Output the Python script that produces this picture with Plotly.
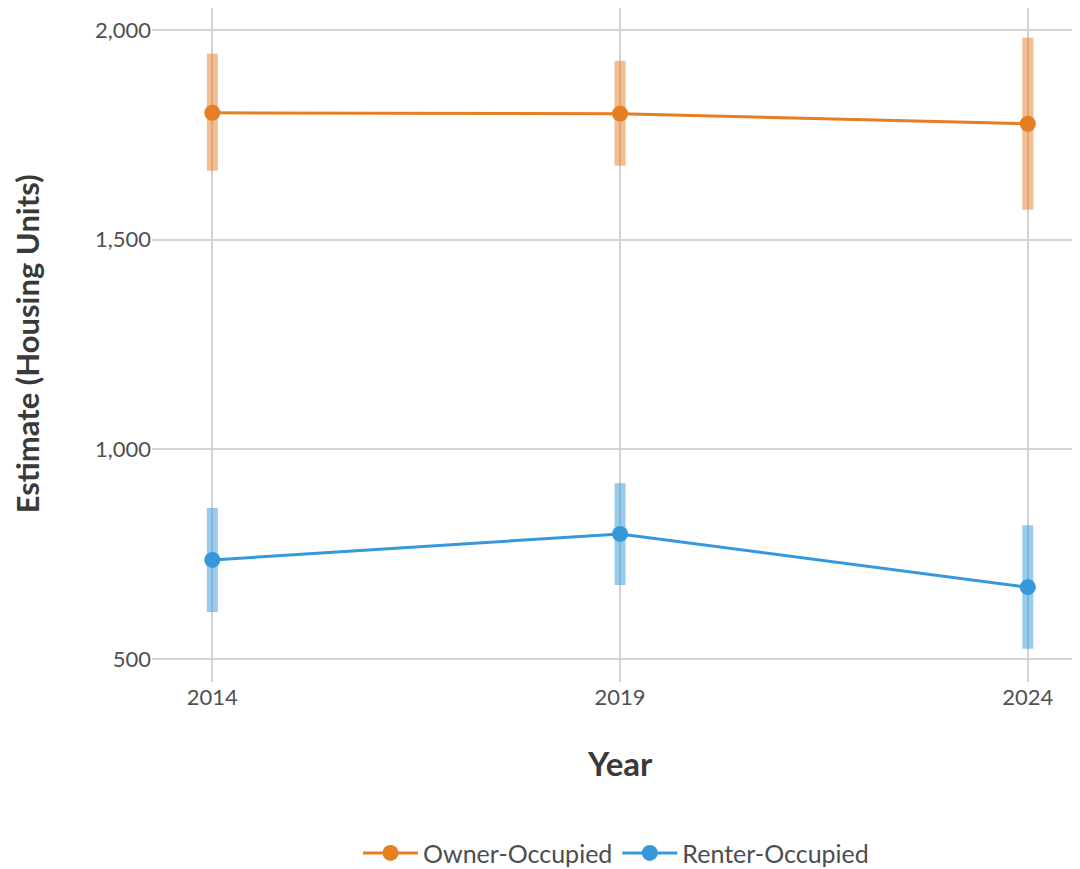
import plotly.graph_objects as go

years = [2014, 2019, 2024]
owner_est = [1802, 1800, 1776]
owner_lo = [1664, 1676, 1571]
owner_hi = [1943, 1926, 1981]
renter_est = [736, 798, 671]
renter_lo = [612, 676, 524]
renter_hi = [860, 919, 819]
series_names = ["Owner-Occupied", "Renter-Occupied"]
tick_vals_y = [500, 1000, 1500, 2000]

FONT = "Lato"
ORANGE = "#E67E22"
BLUE = "#3498DB"

fig = go.Figure()

for name, est, lo, hi, col, band in [
    (series_names[0], owner_est, owner_lo, owner_hi, ORANGE, "rgba(230,126,34,0.5)"),
    (series_names[1], renter_est, renter_lo, renter_hi, BLUE, "rgba(52,152,219,0.5)"),
]:
    fig.add_trace(go.Scatter(
        x=years, y=est, name=name, mode="lines+markers",
        line=dict(color=col, width=3),
        marker=dict(color=col, size=16),
        error_y=dict(type="data", symmetric=False,
                     array=[h - e for h, e in zip(hi, est)],
                     arrayminus=[e - l for e, l in zip(est, lo)],
                     color=band, thickness=11, width=0),
    ))

fig.update_layout(
    width=1072, height=861,
    paper_bgcolor="white", plot_bgcolor="white",
    margin=dict(l=144, r=0, t=0, b=187, autoexpand=False),
    font=dict(family=FONT, color="#505050", size=22),
    showlegend=True,
    legend=dict(orientation="h", x=0.5, xanchor="center",
                y=-0.254, yanchor="middle", font=dict(size=25, color="#4d4d4d"),
                itemwidth=55),
    xaxis=dict(range=[2013.26, 2024.64], tickvals=years, ticktext=[str(y) for y in years],
               showgrid=True, gridcolor="#d3d3d3", gridwidth=2, zeroline=False,
               showline=False, ticks="", automargin=False),
    yaxis=dict(range=[445, 2052], tickvals=tick_vals_y, tickformat=",",
               showgrid=True, gridcolor="#d3d3d3", gridwidth=2, zeroline=False,
               showline=False, ticks="", automargin=False),
    annotations=[
        dict(text="<b>Year</b>", xref="paper", yref="paper", x=0.504, y=-0.12,
             xanchor="center", yanchor="middle", showarrow=False,
             font=dict(size=33, color="#3a3a3a", family=FONT)),
        dict(text="<b>Estimate (Housing Units)</b>", xref="paper", yref="paper",
             x=-0.135, y=0.502, xanchor="center", yanchor="middle", showarrow=False,
             textangle=-90, font=dict(size=31, color="#3a3a3a", family=FONT)),
    ],
)

fig.write_html("out.html")
